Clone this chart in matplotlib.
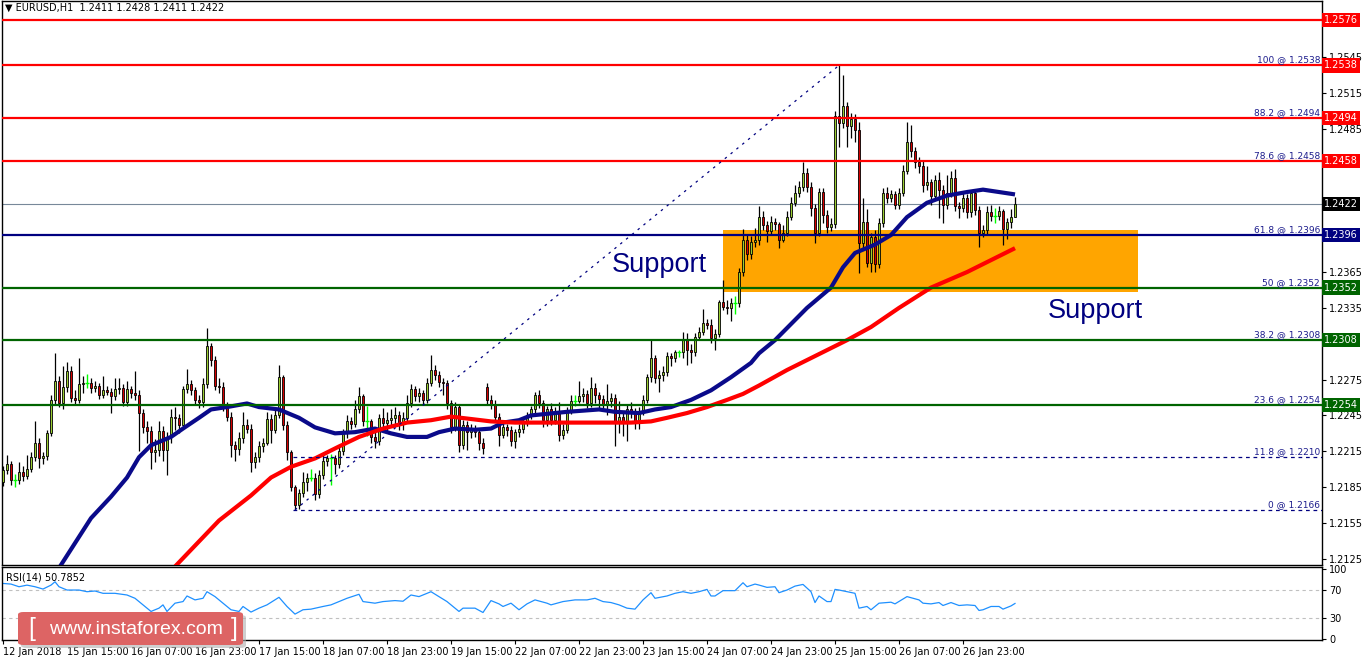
import matplotlib
matplotlib.use("Agg")
import matplotlib.pyplot as plt
import numpy as np
from matplotlib.patches import Rectangle, FancyBboxPatch

# ---------------- data ----------------
first_open = 1.2189
gap_bar, gap_open = 121, 1.2269   # weekend gap (22 Jan open)

closes = [
    1.2199, 1.2204, 1.2191, 1.2191, 1.2198, 1.2194, 1.2200, 1.2210, 1.2222, 1.2209,
    1.2211, 1.2230, 1.2258, 1.2274, 1.2255, 1.2269, 1.2282, 1.2260, 1.2258, 1.2271,
    1.2272, 1.2272, 1.2268, 1.2270, 1.2262, 1.2266, 1.2265, 1.2261, 1.2267, 1.2268,
    1.2256, 1.2267, 1.2264, 1.2262, 1.2247, 1.2235, 1.2232, 1.2214, 1.2216, 1.2232,
    1.2216, 1.2227, 1.2244, 1.2243, 1.2237, 1.2267, 1.2271, 1.2266, 1.2258, 1.2256,
    1.2271, 1.2303, 1.2291, 1.2270, 1.2269, 1.2252, 1.2244, 1.2220, 1.2217, 1.2226,
    1.2237, 1.2234, 1.2206, 1.2210, 1.2219, 1.2222, 1.2242, 1.2233, 1.2245, 1.2277,
    1.2237, 1.2214, 1.2185, 1.2170, 1.2180, 1.2189, 1.2193, 1.2193, 1.2179, 1.2195,
    1.2207, 1.2209, 1.2209, 1.2204, 1.2215, 1.2230, 1.2240, 1.2238, 1.2250, 1.2261,
    1.2240, 1.2240, 1.2227, 1.2224, 1.2243, 1.2239, 1.2241, 1.2243, 1.2245, 1.2238,
    1.2243, 1.2255, 1.2267, 1.2261, 1.2264, 1.2258, 1.2272, 1.2283, 1.2279, 1.2273,
    1.2272, 1.2255, 1.2235, 1.2252, 1.2220, 1.2237, 1.2231, 1.2234, 1.2231, 1.2222,
    1.2218, 1.2258, 1.2254, 1.2244, 1.2229, 1.2235, 1.2233, 1.2224, 1.2231, 1.2234,
    1.2239, 1.2245, 1.2250, 1.2262, 1.2255, 1.2241, 1.2250, 1.2241, 1.2248, 1.2229,
    1.2233, 1.2249, 1.2257, 1.2257, 1.2261, 1.2263, 1.2255, 1.2268, 1.2262, 1.2259,
    1.2254, 1.2257, 1.2260, 1.2240, 1.2244, 1.2239, 1.2250, 1.2248, 1.2239, 1.2248,
    1.2258, 1.2277, 1.2293, 1.2276, 1.2279, 1.2281, 1.2295, 1.2293, 1.2298, 1.2298,
    1.2308, 1.2300, 1.2298, 1.2311, 1.2315, 1.2322, 1.2321, 1.2310, 1.2313, 1.2340,
    1.2336, 1.2335, 1.2339, 1.2339, 1.2365, 1.2392, 1.2380, 1.2390, 1.2392, 1.2411,
    1.2404, 1.2399, 1.2407, 1.2405, 1.2392, 1.2398, 1.2411, 1.2423, 1.2431, 1.2436,
    1.2448, 1.2436, 1.2419, 1.2398, 1.2432, 1.2413, 1.2403, 1.2405, 1.2496, 1.2490,
    1.2504, 1.2487, 1.2493, 1.2484, 1.2389, 1.2407, 1.2373, 1.2394, 1.2372, 1.2406,
    1.2431, 1.2427, 1.2430, 1.2421, 1.2431, 1.2450, 1.2474, 1.2466, 1.2457, 1.2454,
    1.2438, 1.2440, 1.2429, 1.2442, 1.2434, 1.2421, 1.2431, 1.2444, 1.2420, 1.2419,
    1.2427, 1.2415, 1.2431, 1.2417, 1.2398, 1.2400, 1.2415, 1.2412, 1.2412, 1.2416,
    1.2401, 1.2407, 1.2411, 1.2422,
]

highs = [
    1.2203, 1.2212, 1.2207, 1.2196, 1.2206, 1.2203, 1.2212, 1.2214, 1.2240, 1.2226,
    1.2214, 1.2233, 1.2262, 1.2297, 1.2278, 1.2286, 1.2290, 1.2286, 1.2266, 1.2293,
    1.2278, 1.2280, 1.2276, 1.2274, 1.2272, 1.2278, 1.2270, 1.2268, 1.2276, 1.2276,
    1.2271, 1.2274, 1.2270, 1.2282, 1.2266, 1.2250, 1.2240, 1.2236, 1.2225, 1.2240,
    1.2236, 1.2231, 1.2250, 1.2252, 1.2246, 1.2270, 1.2284, 1.2275, 1.2269, 1.2262,
    1.2276, 1.2318, 1.2306, 1.2295, 1.2276, 1.2273, 1.2256, 1.2248, 1.2224, 1.2231,
    1.2248, 1.2242, 1.2238, 1.2214, 1.2224, 1.2226, 1.2248, 1.2246, 1.2250, 1.2287,
    1.2279, 1.2240, 1.2216, 1.2187, 1.2183, 1.2198, 1.2197, 1.2200, 1.2197, 1.2199,
    1.2213, 1.2212, 1.2213, 1.2212, 1.2219, 1.2234, 1.2245, 1.2244, 1.2258, 1.2269,
    1.2263, 1.2253, 1.2242, 1.2232, 1.2246, 1.2251, 1.2248, 1.2250, 1.2252, 1.2249,
    1.2248, 1.2262, 1.2271, 1.2270, 1.2268, 1.2266, 1.2276, 1.2296, 1.2287, 1.2282,
    1.2276, 1.2275, 1.2258, 1.2256, 1.2254, 1.2241, 1.2240, 1.2238, 1.2237, 1.2234,
    1.2226, 1.2272, 1.2262, 1.2258, 1.2247, 1.2240, 1.2238, 1.2236, 1.2234, 1.2238,
    1.2242, 1.2248, 1.2253, 1.2265, 1.2266, 1.2258, 1.2253, 1.2255, 1.2252, 1.2256,
    1.2238, 1.2252, 1.2262, 1.2262, 1.2274, 1.2268, 1.2266, 1.2277, 1.2272, 1.2265,
    1.2262, 1.2271, 1.2264, 1.2263, 1.2257, 1.2248, 1.2254, 1.2256, 1.2251, 1.2252,
    1.2262, 1.2280, 1.2308, 1.2296, 1.2283, 1.2286, 1.2298, 1.2297, 1.2300, 1.2300,
    1.2315, 1.2314, 1.2305, 1.2314, 1.2319, 1.2334, 1.2326, 1.2326, 1.2317, 1.2342,
    1.2358, 1.2342, 1.2343, 1.2345, 1.2368, 1.2401, 1.2396, 1.2395, 1.2402, 1.2420,
    1.2416, 1.2408, 1.2412, 1.2410, 1.2407, 1.2404, 1.2416, 1.2428, 1.2438, 1.2441,
    1.2457, 1.2452, 1.2440, 1.2422, 1.2435, 1.2435, 1.2417, 1.2410, 1.2500, 1.2538,
    1.2530, 1.2507, 1.2498, 1.2497, 1.2491, 1.2427, 1.2418, 1.2398, 1.2400, 1.2410,
    1.2435, 1.2436, 1.2434, 1.2433, 1.2435, 1.2455, 1.2491, 1.2488, 1.2470, 1.2461,
    1.2458, 1.2454, 1.2443, 1.2446, 1.2449, 1.2438, 1.2446, 1.2450, 1.2451, 1.2424,
    1.2432, 1.2430, 1.2434, 1.2434, 1.2420, 1.2404, 1.2420, 1.2421, 1.2419, 1.2420,
    1.2418, 1.2410, 1.2418, 1.2428,
]

lows = [
    1.2186, 1.2196, 1.2187, 1.2185, 1.2188, 1.2190, 1.2192, 1.2198, 1.2207, 1.2201,
    1.2204, 1.2208, 1.2228, 1.2254, 1.2252, 1.2250, 1.2265, 1.2256, 1.2254, 1.2255,
    1.2264, 1.2268, 1.2264, 1.2265, 1.2259, 1.2260, 1.2262, 1.2247, 1.2258, 1.2263,
    1.2253, 1.2253, 1.2260, 1.2258, 1.2215, 1.2230, 1.2222, 1.2200, 1.2206, 1.2211,
    1.2207, 1.2195, 1.2222, 1.2233, 1.2230, 1.2234, 1.2264, 1.2262, 1.2254, 1.2251,
    1.2252, 1.2268, 1.2286, 1.2266, 1.2264, 1.2249, 1.2240, 1.2210, 1.2207, 1.2212,
    1.2222, 1.2230, 1.2198, 1.2201, 1.2206, 1.2214, 1.2220, 1.2222, 1.2230, 1.2243,
    1.2233, 1.2208, 1.2182, 1.2166, 1.2167, 1.2177, 1.2182, 1.2190, 1.2174, 1.2176,
    1.2192, 1.2203, 1.2187, 1.2196, 1.2201, 1.2212, 1.2226, 1.2234, 1.2235, 1.2247,
    1.2236, 1.2228, 1.2222, 1.2218, 1.2220, 1.2235, 1.2232, 1.2236, 1.2238, 1.2233,
    1.2233, 1.2240, 1.2252, 1.2257, 1.2256, 1.2254, 1.2255, 1.2270, 1.2275, 1.2269,
    1.2262, 1.2250, 1.2230, 1.2232, 1.2214, 1.2217, 1.2216, 1.2226, 1.2227, 1.2216,
    1.2213, 1.2254, 1.2250, 1.2240, 1.2219, 1.2226, 1.2228, 1.2219, 1.2218, 1.2227,
    1.2230, 1.2236, 1.2242, 1.2247, 1.2251, 1.2235, 1.2236, 1.2237, 1.2238, 1.2224,
    1.2225, 1.2230, 1.2246, 1.2253, 1.2255, 1.2256, 1.2251, 1.2252, 1.2255, 1.2250,
    1.2249, 1.2245, 1.2252, 1.2219, 1.2230, 1.2228, 1.2224, 1.2243, 1.2234, 1.2234,
    1.2245, 1.2255, 1.2273, 1.2272, 1.2265, 1.2274, 1.2278, 1.2286, 1.2290, 1.2294,
    1.2293, 1.2287, 1.2289, 1.2295, 1.2308, 1.2312, 1.2317, 1.2306, 1.2300, 1.2311,
    1.2333, 1.2330, 1.2324, 1.2330, 1.2336, 1.2362, 1.2375, 1.2376, 1.2386, 1.2388,
    1.2400, 1.2390, 1.2396, 1.2400, 1.2385, 1.2390, 1.2395, 1.2409, 1.2420, 1.2428,
    1.2433, 1.2432, 1.2412, 1.2389, 1.2395, 1.2406, 1.2398, 1.2399, 1.2402, 1.2470,
    1.2486, 1.2470, 1.2477, 1.2474, 1.2364, 1.2385, 1.2369, 1.2365, 1.2365, 1.2368,
    1.2403, 1.2423, 1.2424, 1.2418, 1.2418, 1.2429, 1.2447, 1.2461, 1.2452, 1.2448,
    1.2432, 1.2434, 1.2421, 1.2425, 1.2410, 1.2406, 1.2418, 1.2428, 1.2416, 1.2410,
    1.2415, 1.2410, 1.2411, 1.2413, 1.2386, 1.2394, 1.2397, 1.2408, 1.2406, 1.2409,
    1.2388, 1.2393, 1.2402, 1.2411,
]

# moving averages (read at sampled bars)
ma_fast_x = [13, 22, 27, 31, 34, 37, 42, 45, 49, 52, 56, 61, 64, 69, 74, 78, 83, 88, 93, 97,
             101, 106, 109, 113, 118, 122, 125, 129, 132, 141, 149, 153, 159, 163, 167, 172,
             177, 182, 187, 189, 193, 201, 207, 210, 213, 218, 222, 226, 231, 236, 241, 245,
             249, 253]
ma_fast_v = [1.2112, 1.2159, 1.2177, 1.2193, 1.2210, 1.2220, 1.2227, 1.2234, 1.2243, 1.2250,
             1.2252, 1.2255, 1.2252, 1.2250, 1.2243, 1.2235, 1.2230, 1.2231, 1.2234, 1.2230,
             1.2227, 1.2227, 1.2231, 1.2234, 1.2233, 1.2234, 1.2239, 1.2241, 1.2245, 1.2248,
             1.2250, 1.2248, 1.2247, 1.2250, 1.2252, 1.2258, 1.2266, 1.2277, 1.2289, 1.2297,
             1.2308, 1.2335, 1.2352, 1.2369, 1.2381, 1.2388, 1.2396, 1.2411, 1.2423, 1.2429,
             1.2432, 1.2434, 1.2432, 1.2430]
ma_slow_x = [42, 54, 62, 64, 67, 72, 78, 84, 89, 95, 101, 107, 112, 117, 122, 128, 141, 157,
             162, 166, 171, 176, 181, 185, 189, 196, 211, 217, 224, 232, 241, 247, 253]
ma_slow_v = [1.2115, 1.2157, 1.2178, 1.2184, 1.2193, 1.2202, 1.2209, 1.2219, 1.2227, 1.2234,
             1.2239, 1.2241, 1.2244, 1.2242, 1.2240, 1.2239, 1.2239, 1.2239, 1.2240, 1.2243,
             1.2247, 1.2252, 1.2258, 1.2263, 1.2270, 1.2283, 1.2308, 1.2319, 1.2335, 1.2352,
             1.2365, 1.2375, 1.2385]

rsi_x = [0, 2, 4, 6, 8, 10, 12, 13, 14, 16, 19, 21, 23, 25, 28, 31, 33, 35, 37, 39,
         40, 41, 43, 45, 46, 48, 50, 51, 53, 55, 57, 59, 60, 62, 64, 66, 69, 71, 73, 75,
         77, 80, 82, 84, 86, 89, 90, 93, 95, 98, 100, 102, 104, 107, 109, 111, 114, 115, 118, 120,
         122, 124, 125, 127, 129, 131, 133, 136, 137, 140, 143, 146, 148, 150, 152, 154, 156, 158, 160, 162,
         163, 166, 168, 170, 172, 174, 176, 177, 178, 180, 183, 185, 186, 188, 189, 191, 193, 194, 196, 198,
         200, 202, 203, 204, 206, 207, 208, 209, 211, 213, 214, 216, 217, 219, 222, 223, 226, 229, 230, 232,
         234, 235, 237, 239, 241, 243, 244, 245, 247, 249, 250, 252, 253]
rsi_v = [79.4, 78.5, 74.7, 77.0, 74.7, 71.4, 77.0, 81.8, 74.7, 70.0, 70.0, 67.6, 68.6, 65.3, 65.3, 62.9, 58.2, 48.8, 39.4, 44.1,
         48.8, 39.4, 51.2, 53.5, 61.5, 55.9, 58.2, 67.6, 60.6, 51.2, 41.8, 39.4, 46.5, 38.5, 44.1, 48.8, 59.6, 46.5, 35.6, 41.8,
         42.7, 46.5, 48.8, 53.5, 58.2, 63.9, 53.5, 51.2, 53.5, 54.9, 54.0, 62.9, 60.6, 67.6, 60.6, 53.5, 39.4, 44.1, 44.1, 37.9,
         54.9, 50.2, 46.5, 51.2, 41.8, 50.2, 55.9, 51.2, 48.8, 53.5, 55.9, 55.9, 58.2, 53.5, 52.1, 48.8, 44.1, 42.7, 55.9, 66.2,
         58.2, 61.5, 65.3, 67.6, 65.3, 67.6, 70.9, 61.5, 61.5, 69.1, 69.1, 80.4, 74.7, 78.5, 77.1, 73.8, 74.7, 66.2, 70.0, 75.6,
         78.0, 67.6, 52.1, 61.5, 53.5, 53.5, 70.9, 70.0, 67.6, 65.3, 44.1, 46.5, 41.8, 51.2, 52.6, 50.2, 60.6, 55.9, 51.2, 50.2,
         52.1, 47.9, 52.1, 47.9, 48.8, 47.9, 40.8, 41.8, 46.5, 46.5, 42.7, 47.3, 50.8]

tick_bars = [0, 16, 32, 48, 64, 80, 96, 112, 128, 144, 160, 176, 192, 208, 224, 240]
tick_labels = ["12 Jan 2018", "15 Jan 15:00", "16 Jan 07:00", "16 Jan 23:00", "17 Jan 15:00",
               "18 Jan 07:00", "18 Jan 23:00", "19 Jan 15:00", "22 Jan 07:00", "22 Jan 23:00",
               "23 Jan 15:00", "24 Jan 07:00", "24 Jan 23:00", "25 Jan 15:00", "26 Jan 07:00",
               "26 Jan 23:00"]

red_levels = [1.2576, 1.2538, 1.2494, 1.2458]
navy_levels = [1.2396]
green_levels = [1.2352, 1.2308, 1.2254]
current_price = 1.2422

fib_low_bar, fib_low = 73, 1.2166
fib_high_bar, fib_high = 209, 1.2538
fib_ratios = ["100", "88.2", "78.6", "61.8", "50", "38.2", "23.6", "11.8", "0"]
fib_prices = [1.2538, 1.2494, 1.2458, 1.2396, 1.2352, 1.2308, 1.2254, 1.2210, 1.2166]

zone_bars = (180, 283.75)
zone_prices = (1.2348, 1.2400)

price_ticks = [1.2545, 1.2515, 1.2485, 1.2455, 1.2425, 1.2395, 1.2365, 1.2335, 1.2305,
               1.2275, 1.2245, 1.2215, 1.2185, 1.2155, 1.2125]
hidden_tick_labels = [1.2455, 1.2425, 1.2395, 1.2305]   # covered by price tags

# ---------------- figure ----------------
W, Hh = 1362, 661
fig = plt.figure(figsize=(W / 100, Hh / 100), dpi=100)
fig.patch.set_facecolor("white")
plt.rcParams["font.family"] = ["DejaVu Sans"]


def fx(px):
    return px / W


def fy(py):
    return 1 - py / Hh


ax = fig.add_axes([fx(2), fy(565), fx(1322) - fx(2), fy(1) - fy(565)])
rx = fig.add_axes([fx(2), fy(640), fx(1322) - fx(2), fy(567) - fy(640)])

XL = (-0.25, 329.75)
ax.set_xlim(*XL)
ax.set_ylim(1.21198, 1.25919)
rx.set_xlim(*XL)
rx.set_ylim(-1.4, 102.9)

NAVY = "#000080"
DGREEN = "#006400"
RED = "#ff0000"

# support zone
ax.add_patch(Rectangle((zone_bars[0], zone_prices[0]), zone_bars[1] - zone_bars[0],
                       zone_prices[1] - zone_prices[0], facecolor="#ffa500", edgecolor="none", zorder=1))

# candles
C = np.array(closes)
O = np.concatenate([[first_open], C[:-1]])
O[gap_bar] = gap_open
Hi = np.maximum(np.array(highs), np.maximum(O, C))
Lo = np.minimum(np.array(lows), np.minimum(O, C))
idx = np.arange(len(C))
eq = np.isclose(O, C, atol=1e-6)
up = (C > O) & ~eq
dn = (C < O) & ~eq

ax.vlines(idx[~eq], Lo[~eq], Hi[~eq], color="black", lw=0.9, zorder=3)
ax.vlines(idx[eq], Lo[eq], Hi[eq], color="#00ff00", lw=1.0, zorder=3)
ax.hlines(C[eq], idx[eq] - 0.4, idx[eq] + 0.4, color="#00ff00", lw=1.0, zorder=3)
ax.bar(idx[up], (C - O)[up], bottom=O[up], width=0.72, color="#9acd32", edgecolor="black",
       lw=0.6, zorder=4)
ax.bar(idx[dn], (O - C)[dn], bottom=C[dn], width=0.72, color="#d40000", edgecolor="black",
       lw=0.6, zorder=4)

# moving averages
ax.plot(ma_fast_x, ma_fast_v, color="#0a0a8a", lw=3.0, zorder=5, solid_capstyle="butt",
        solid_joinstyle="round")
ax.plot(ma_slow_x, ma_slow_v, color=RED, lw=3.0, zorder=5, solid_capstyle="butt",
        solid_joinstyle="round")

# horizontal levels
for p in red_levels:
    ax.axhline(p, color=RED, lw=1.6, zorder=6)
for p in navy_levels:
    ax.axhline(p, color=NAVY, lw=1.6, zorder=6)
for p in green_levels:
    ax.axhline(p, color=DGREEN, lw=1.6, zorder=6)
ax.axhline(current_price, color="#778899", lw=0.8, zorder=2)

# fibonacci
ax.plot([fib_low_bar, fib_high_bar], [fib_low, fib_high], color=NAVY, lw=0.9,
        ls=(0, (2, 4)), zorder=6)
for p in fib_prices[-2:]:
    ax.hlines(p, fib_low_bar - 0.5, XL[1], color=NAVY, lw=0.9, ls=(0, (3, 3)), zorder=6)
for r, p in zip(fib_ratios, fib_prices):
    ax.text(0.9985, p + 0.00008, f"{r} @ {p:.4f}", transform=ax.get_yaxis_transform(),
            ha="right", va="bottom", fontsize=6.5, color="#1c1c8c", zorder=7)

# support labels
ax.text(152.3, 1.2371, "Support", fontsize=19.5, color=NAVY, family="Liberation Sans",
        ha="left", va="center", zorder=7)
ax.text(261.3, 1.2332, "Support", fontsize=19.5, color=NAVY, family="Liberation Sans",
        ha="left", va="center", zorder=7)

# axes styling
for a in (ax, rx):
    for s in a.spines.values():
        s.set_color("black")
        s.set_linewidth(1.0)
    a.yaxis.tick_right()
    a.tick_params(axis="y", labelsize=7, length=3, width=0.8, pad=2, colors="black")
ax.set_xticks([])
ax.set_yticks(price_ticks)
ax.set_yticklabels(["" if any(abs(p - h) < 1e-9 for h in hidden_tick_labels) else f"{p:.4f}"
                    for p in price_ticks])

# price tags
tags = [(p, RED) for p in red_levels] + [(current_price, "#000000")] + \
       [(p, NAVY) for p in navy_levels] + [(p, DGREEN) for p in green_levels]
for p, c in tags:
    ax.text(1.0015, p, f"{p:.4f}", transform=ax.get_yaxis_transform(), ha="left", va="center",
            color="white", fontsize=7, zorder=10, clip_on=False,
            bbox=dict(boxstyle="square,pad=0.22", fc=c, ec="none"))

# RSI panel
rx.axhline(70, color="#c0c0c0", lw=0.8, ls=(0, (3, 3)))
rx.axhline(30, color="#c0c0c0", lw=0.8, ls=(0, (3, 3)))
rx.plot(rsi_x, rsi_v, color="#1e90ff", lw=0.9)
rx.set_yticks([0, 30, 70, 100])
rx.set_yticklabels(["0", "30", "70", "100"])
rx.set_xticks(tick_bars)
rx.set_xticklabels(tick_labels, ha="left", fontsize=7)
rx.tick_params(axis="x", length=3, width=0.8, pad=2)
rx.text(0.003, 0.92, "RSI(14) 50.7852", transform=rx.transAxes, fontsize=7, va="top", ha="left")

# title
fig.text(fx(5), fy(8), "\u25bc EURUSD,H1  1.2411 1.2428 1.2411 1.2422", fontsize=7,
         va="center", ha="left")

# watermark
shadow = FancyBboxPatch((fx(21), fy(648)), fx(243) - fx(18), fy(612) - fy(645),
                        boxstyle="round,pad=0,rounding_size=0.004", transform=fig.transFigure,
                        fc="#b0b0b0", ec="none", alpha=0.6, zorder=5)
box = FancyBboxPatch((fx(18), fy(645)), fx(243) - fx(18), fy(612) - fy(645),
                     boxstyle="round,pad=0,rounding_size=0.004", transform=fig.transFigure,
                     fc="#dd6464", ec="none", zorder=6)
fig.add_artist(shadow)
fig.add_artist(box)
fig.text(fx(32), fy(629), "[", fontsize=18, color="white", ha="center", va="center",
         family="Liberation Sans", zorder=7)
fig.text(fx(136), fy(629), "www.instaforex.com", fontsize=14, color="white", ha="center",
         va="center", family="Liberation Sans", zorder=7)
fig.text(fx(234), fy(629), "]", fontsize=18, color="white", ha="center", va="center",
         family="Liberation Sans", zorder=7)

fig.savefig("out.png", dpi=100)
